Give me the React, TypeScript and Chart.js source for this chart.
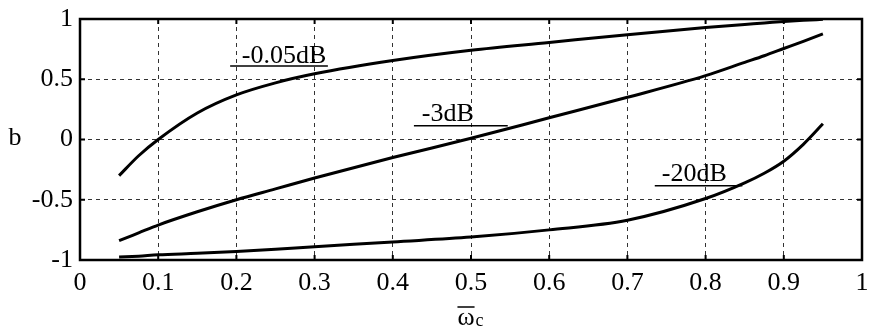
import { useEffect, useRef } from "react";
import { Chart, registerables } from "chart.js";

Chart.register(...registerables);

// ---- data ----
const omegaC = [0.05, 0.075, 0.1, 0.15, 0.2, 0.25, 0.3, 0.4, 0.5, 0.6, 0.7, 0.8, 0.85, 0.875, 0.9, 0.925, 0.95];
const bMinus005dB = [-0.3, -0.135, 0.0, 0.22, 0.37, 0.47, 0.545, 0.655, 0.74, 0.805, 0.87, 0.93, 0.955, 0.967, 0.98, 0.99, 0.997];
const bMinus3dB = [-0.84, -0.775, -0.71, -0.6, -0.5, -0.41, -0.32, -0.15, 0.01, 0.18, 0.35, 0.53, 0.64, 0.695, 0.755, 0.815, 0.877];
const bMinus20dB = [-0.976, -0.968, -0.957, -0.945, -0.93, -0.91, -0.89, -0.85, -0.81, -0.75, -0.67, -0.49, -0.36, -0.28, -0.18, -0.04, 0.13];
const seriesNames = ["-0.05dB", "-3dB", "-20dB"];
const xTickValues = [0, 0.1, 0.2, 0.3, 0.4, 0.5, 0.6, 0.7, 0.8, 0.9, 1];
const yTickValues = [-1, -0.5, 0, 0.5, 1];
const yAxisTitle = "b";
const xAxisSymbol = "ω";
const xAxisSub = "c";

// annotation anchors in data coordinates: [textX, textY, lineX0, lineX1, lineY]
const labelAnchors = [
  [0.207, 0.636, 0.192, 0.317, 0.61],
  [0.437, 0.155, 0.427, 0.547, 0.114],
  [0.744, -0.343, 0.735, 0.847, -0.384],
];

const FONT = "'Liberation Serif', 'Times New Roman', serif";

const framePlugin = {
  id: "frame",
  afterDraw(chart: any) {
    const { ctx, chartArea: a, scales } = chart;
    const xs = scales.x;
    const ys = scales.y;
    ctx.save();
    // inner ticks
    ctx.strokeStyle = "#000";
    ctx.lineWidth = 2;
    ctx.setLineDash([]);
    const tl = 5;
    xTickValues.forEach((v) => {
      const px = xs.getPixelForValue(v);
      ctx.beginPath();
      ctx.moveTo(px, a.bottom);
      ctx.lineTo(px, a.bottom - tl);
      ctx.moveTo(px, a.top);
      ctx.lineTo(px, a.top + tl);
      ctx.stroke();
    });
    yTickValues.forEach((v) => {
      const py = ys.getPixelForValue(v);
      ctx.beginPath();
      ctx.moveTo(a.left, py);
      ctx.lineTo(a.left + tl, py);
      ctx.moveTo(a.right, py);
      ctx.lineTo(a.right - tl, py);
      ctx.stroke();
    });
    // border
    ctx.lineWidth = 2.5;
    ctx.strokeRect(a.left, a.top, a.right - a.left, a.bottom - a.top);

    // series annotations
    ctx.fillStyle = "#000";
    ctx.font = `26px ${FONT}`;
    ctx.textAlign = "left";
    ctx.textBaseline = "alphabetic";
    ctx.lineWidth = 1.5;
    labelAnchors.forEach((an, i) => {
      const tx = xs.getPixelForValue(an[0]);
      const ty = ys.getPixelForValue(an[1]);
      ctx.fillText(seriesNames[i], tx, ty);
      const ly = ys.getPixelForValue(an[4]);
      ctx.beginPath();
      ctx.moveTo(xs.getPixelForValue(an[2]), ly);
      ctx.lineTo(xs.getPixelForValue(an[3]), ly);
      ctx.stroke();
    });

    // y axis title
    ctx.font = `26px ${FONT}`;
    ctx.textAlign = "center";
    ctx.fillText(yAxisTitle, 15, ys.getPixelForValue(0) + 5);

    // x axis title: omega with overline and subscript c
    const cx = xs.getPixelForValue(0.5);
    ctx.font = `26px ${FONT}`;
    ctx.textAlign = "left";
    const w = ctx.measureText(xAxisSymbol).width;
    const ox = cx - 5 - w / 2;
    const base = 325;
    ctx.fillText(xAxisSymbol, ox, base);
    ctx.lineWidth = 1.5;
    ctx.beginPath();
    ctx.moveTo(ox, 307);
    ctx.lineTo(ox + w, 307);
    ctx.stroke();
    ctx.font = `18px ${FONT}`;
    ctx.fillText(xAxisSub, ox + w + 1, base + 1);
    ctx.restore();
  },
};

export default function App() {
  const ref = useRef<HTMLCanvasElement | null>(null);
  useEffect(() => {
    if (!ref.current) return;
    const mk = (vals: number[]) => omegaC.map((x, i) => ({ x, y: vals[i] }));
    const ds = (vals: number[], label: string) => ({
      label,
      data: mk(vals),
      borderColor: "#000",
      borderWidth: 3,
      pointRadius: 0,
      fill: false,
      cubicInterpolationMode: "monotone" as const,
    });
    const chart = new Chart(ref.current, {
      type: "line",
      data: {
        datasets: [
          ds(bMinus005dB, seriesNames[0]),
          ds(bMinus3dB, seriesNames[1]),
          ds(bMinus20dB, seriesNames[2]),
        ],
      },
      options: {
        responsive: false,
        animation: false,
        layout: { padding: { top: 19, right: 9, left: 0, bottom: 0 } },
        plugins: { legend: { display: false }, tooltip: { enabled: false } },
        scales: {
          x: {
            type: "linear",
            min: 0,
            max: 1,
            afterBuildTicks: (s: any) => {
              s.ticks = xTickValues.map((v) => ({ value: v }));
            },
            afterFit: (s: any) => {
              s.height = 67;
              s.paddingLeft = 0;
              s.paddingRight = 0;
            },
            grid: { color: "#333", lineWidth: 1, drawTicks: false },
            border: { display: false, dash: [4, 4] },
            ticks: {
              color: "#000",
              padding: 8,
              maxRotation: 0,
              autoSkip: false,
              font: { family: FONT, size: 26 },
              callback: (v: any) => String(v),
            },
          },
          y: {
            type: "linear",
            min: -1,
            max: 1,
            afterBuildTicks: (s: any) => {
              s.ticks = yTickValues.map((v) => ({ value: v }));
            },
            afterFit: (s: any) => {
              s.width = 80;
              s.paddingTop = 0;
              s.paddingBottom = 0;
            },
            grid: { color: "#333", lineWidth: 1, drawTicks: false },
            border: { display: false, dash: [4, 4] },
            ticks: {
              color: "#000",
              padding: 7,
              autoSkip: false,
              font: { family: FONT, size: 26 },
              callback: (v: any) => String(v),
            },
          },
        },
      },
      plugins: [framePlugin],
    });
    return () => chart.destroy();
  }, []);
  return (
    <div style={{ position: "fixed", left: 0, top: 0, width: 871, height: 327, background: "#fff" }}>
      <canvas ref={ref} width={871} height={327} style={{ width: 871, height: 327, display: "block" }} />
    </div>
  );
}
